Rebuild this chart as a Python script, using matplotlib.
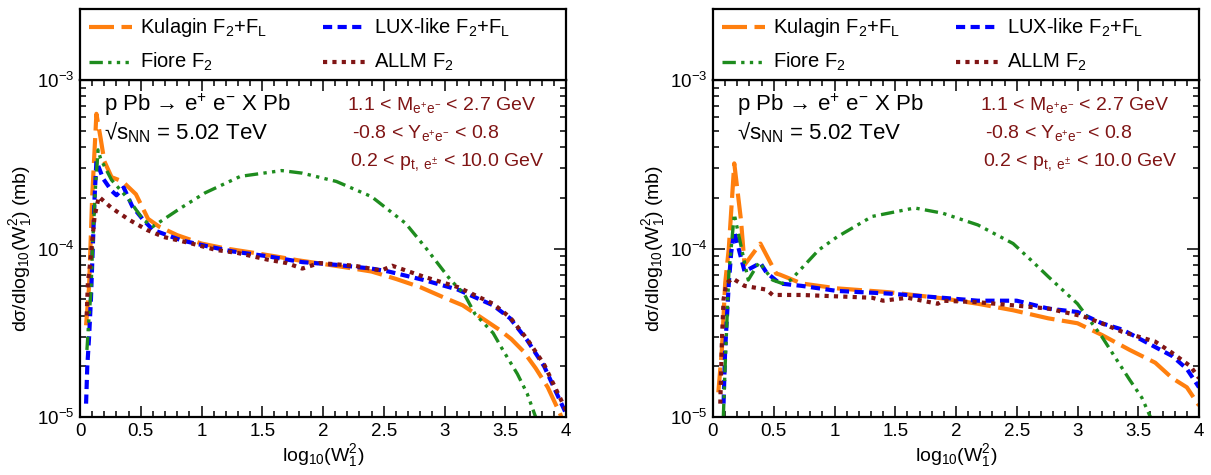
import matplotlib
matplotlib.use("Agg")
import matplotlib.pyplot as plt
from matplotlib.ticker import NullFormatter
import numpy as np

plt.rcParams['font.family'] = ['Liberation Sans', 'DejaVu Sans']
plt.rcParams['mathtext.fontset'] = 'custom'
plt.rcParams['mathtext.rm'] = 'Liberation Sans'
plt.rcParams['mathtext.it'] = 'Liberation Sans:italic'
plt.rcParams['mathtext.default'] = 'regular'

# ---------------- data: left panel ----------------
L_kul_x = [0.05, 0.075, 0.1, 0.135, 0.17, 0.2, 0.26, 0.35, 0.46, 0.56, 0.65, 0.8, 1.0, 1.2, 1.4,
           1.6, 1.8, 2.0, 2.2, 2.4, 2.6, 2.8, 3.0, 3.15, 3.3, 3.45, 3.55, 3.65, 3.75, 3.85, 3.95, 4.0]
L_kul_y = [3.5e-5, 6e-5, 2.0e-4, 6.3e-4, 4.5e-4, 3.3e-4, 2.65e-4, 2.5e-4, 2.1e-4, 1.5e-4, 1.35e-4,
           1.2e-4, 1.07e-4, 1.0e-4, 9.5e-5, 9.0e-5, 8.5e-5, 8.1e-5, 7.7e-5, 7.3e-5, 6.6e-5, 5.9e-5,
           5.1e-5, 4.6e-5, 3.9e-5, 3.3e-5, 2.9e-5, 2.45e-5, 1.95e-5, 1.5e-5, 1.05e-5, 0.85e-5]

L_lux_x = [0.05, 0.06, 0.075, 0.09, 0.105, 0.12, 0.135, 0.19, 0.26, 0.3, 0.36, 0.43, 0.52, 0.6,
           0.83, 1.05, 1.26, 1.54, 1.83, 2.11, 2.4, 2.54, 2.83, 3.11, 3.4, 3.54, 3.68, 3.82, 3.94, 4.0]
L_lux_y = [1.2e-5, 2e-5, 3e-5, 5e-5, 1.0e-4, 2.0e-4, 3.3e-4, 2.6e-4, 2.2e-4, 2.07e-4, 2.3e-4,
           1.78e-4, 1.48e-4, 1.29e-4, 1.12e-4, 1.03e-4, 9.6e-5, 9.0e-5, 8.3e-5, 8.0e-5, 7.6e-5,
           7.3e-5, 6.5e-5, 5.7e-5, 4.6e-5, 3.85e-5, 2.86e-5, 2.0e-5, 1.3e-5, 1.05e-5]

L_fio_x = [0.057, 0.075, 0.09, 0.105, 0.13, 0.149, 0.17, 0.26, 0.405, 0.52, 0.6, 0.83, 1.03, 1.32,
           1.66, 1.83, 2.11, 2.4, 2.68, 2.85, 3.05, 3.16, 3.25, 3.4, 3.48, 3.6, 3.68, 3.75, 3.8]
L_fio_y = [2.5e-5, 4e-5, 5.5e-5, 1.1e-4, 2.5e-4, 3.85e-4, 3.4e-4, 2.55e-4, 1.94e-4, 1.48e-4, 1.35e-4,
           1.74e-4, 2.14e-4, 2.68e-4, 2.9e-4, 2.8e-4, 2.5e-4, 2.03e-4, 1.41e-4, 1.0e-4, 6.5e-5,
           5.4e-5, 4.1e-5, 3.15e-5, 2.5e-5, 1.8e-5, 1.38e-5, 1.0e-5, 0.8e-5]

L_allm_x = [0.055, 0.065, 0.08, 0.095, 0.12, 0.155, 0.26, 0.405, 0.55, 0.69, 0.92, 1.12, 1.3, 1.54,
            1.7, 1.83, 1.97, 2.26, 2.48, 2.57, 2.83, 3.11, 3.4, 3.54, 3.68, 3.82, 3.94, 4.0]
L_allm_y = [4e-5, 6.3e-5, 7.8e-5, 1.0e-4, 1.55e-4, 2.03e-4, 1.74e-4, 1.48e-4, 1.29e-4, 1.17e-4,
            1.07e-4, 9.8e-5, 9.4e-5, 8.6e-5, 8.2e-5, 7.6e-5, 8.2e-5, 7.9e-5, 7.4e-5, 7.9e-5,
            6.8e-5, 5.9e-5, 4.7e-5, 3.9e-5, 2.9e-5, 2.05e-5, 1.35e-5, 1.1e-5]

# ---------------- data: right panel ----------------
R_kul_x = [0.044, 0.073, 0.10, 0.13, 0.175, 0.23, 0.26, 0.39, 0.52, 0.55, 0.73, 1.02, 1.45, 1.89,
           2.18, 2.47, 2.76, 3.0, 3.2, 3.43, 3.64, 3.78, 3.9, 4.0]
R_kul_y = [1.4e-5, 2.5e-5, 6.2e-5, 1.0e-4, 3.2e-4, 1.48e-4, 8e-5, 1.07e-4, 7.1e-5, 7.0e-5, 6.2e-5,
           5.8e-5, 5.5e-5, 5.06e-5, 4.7e-5, 4.3e-5, 3.85e-5, 3.6e-5, 3.07e-5, 2.5e-5, 2.1e-5,
           1.7e-5, 1.5e-5, 1.17e-5]

R_lux_x = [0.087, 0.1, 0.13, 0.15, 0.175, 0.26, 0.39, 0.44, 0.55, 0.73, 1.02, 1.45, 1.89, 2.18, 2.5,
           2.76, 3.0, 3.2, 3.37, 3.64, 3.78, 3.9, 4.0]
R_lux_y = [1.2e-5, 2.5e-5, 6.2e-5, 9.5e-5, 1.26e-4, 7.3e-5, 8.2e-5, 7.2e-5, 6.2e-5, 6.0e-5, 5.6e-5,
           5.4e-5, 5.1e-5, 4.9e-5, 4.9e-5, 4.4e-5, 4.2e-5, 3.6e-5, 3.3e-5, 2.6e-5, 2.3e-5, 1.93e-5,
           1.5e-5]

R_fio_x = [0.085, 0.1, 0.13, 0.175, 0.29, 0.38, 0.49, 0.57, 0.64, 0.87, 1.02, 1.31, 1.66, 1.89, 2.18,
           2.47, 2.62, 2.76, 3.0, 3.2, 3.32, 3.43, 3.53, 3.6, 3.65]
R_fio_y = [1.0e-5, 2e-5, 7e-5, 1.6e-4, 6.5e-5, 8.3e-5, 6.5e-5, 6.2e-5, 6.5e-5, 9.8e-5, 1.17e-4,
           1.55e-4, 1.74e-4, 1.62e-4, 1.38e-4, 1.07e-4, 8.5e-5, 6.8e-5, 4.7e-5, 3.0e-5, 2.2e-5,
           1.66e-5, 1.3e-5, 1.0e-5, 0.85e-5]

R_allm_x = [0.06, 0.073, 0.087, 0.11, 0.16, 0.26, 0.44, 0.49, 0.73, 1.02, 1.31, 1.4, 1.6, 1.85, 1.89,
            2.18, 2.47, 2.76, 3.05, 3.2, 3.37, 3.64, 3.78, 3.93, 4.0]
R_allm_y = [1.2e-5, 2.8e-5, 5e-5, 6.2e-5, 6.65e-5, 6.0e-5, 5.7e-5, 5.3e-5, 5.3e-5, 5.2e-5, 5.1e-5,
            4.9e-5, 5.1e-5, 4.7e-5, 4.9e-5, 4.8e-5, 4.6e-5, 4.4e-5, 3.95e-5, 3.6e-5, 3.2e-5, 2.8e-5,
            2.4e-5, 2.0e-5, 1.7e-5]

legend_labels = [r'Kulagin F$_{2}$+F$_{L}$', r'LUX-like F$_{2}$+F$_{L}$', r'Fiore F$_{2}$', r'ALLM F$_{2}$']
x_ticks = [0, 0.5, 1, 1.5, 2, 2.5, 3, 3.5, 4]
x_tick_labels = ['0', '0.5', '1', '1.5', '2', '2.5', '3', '3.5', '4']
y_ticks = [1e-5, 1e-4, 1e-3]
y_tick_labels = [r'$10^{-5}$', r'$10^{-4}$', r'$10^{-3}$']

# ---------------- styles ----------------
C_KUL = '#ff7f0e'
C_LUX = '#0000ff'
C_FIO = '#1e8c1e'
C_ALLM = '#801515'
styles = [
    dict(color=C_KUL, lw=3.0, ls=(0, (6, 1.8))),
    dict(color=C_LUX, lw=3.0, ls=(0, (2.2, 1.3))),
    dict(color=C_FIO, lw=2.4, ls=(0, (4, 1.6, 1, 1.6, 1, 1.6, 1, 1.6))),
    dict(color=C_ALLM, lw=3.0, ls=(0, (1, 1.25))),
]

W, H = 1211, 475
fig = plt.figure(figsize=(W / 100, H / 100), dpi=100)

y_minor = [m * 10.0 ** e for e in (-5, -4) for m in range(2, 10)]


def make_panel(x0, data):
    ax = fig.add_axes([x0 / W, 1 - 417 / H, 486 / W, 337 / H])
    ax.set_yscale('log')
    for (xs, ys), st in zip(data, styles):
        ax.plot(xs, ys, color=st['color'], lw=st['lw'], ls=st['ls'], solid_capstyle='butt',
                dash_capstyle='butt')
    ax.set_xlim(0, 4)
    ax.set_ylim(1e-5, 1e-3)
    ax.set_xticks(x_ticks)
    ax.set_xticklabels(x_tick_labels)
    ax.set_xticks(np.arange(0, 4.001, 0.1), minor=True)
    ax.set_yticks(y_ticks)
    ax.set_yticklabels(y_tick_labels)
    ax.set_yticks(y_minor, minor=True)
    ax.yaxis.set_minor_formatter(NullFormatter())
    ax.tick_params(which='both', direction='in', top=True, right=True, left=True, bottom=True,
                   labelsize=13.5, pad=4)
    ax.tick_params(which='major', axis='x', length=8, width=1.1)
    ax.tick_params(which='minor', axis='x', length=4, width=1.1)
    ax.tick_params(which='major', axis='y', length=8.5, width=1.1)
    ax.tick_params(which='minor', axis='y', length=4.5, width=1.1)
    for s in ax.spines.values():
        s.set_linewidth(1.6)

    ax.set_xlabel(r'log$_{10}$(W$_{1}^{2}$)', fontsize=14, labelpad=2)
    ax.set_ylabel(r'dσ/dlog$_{10}$(W$_{1}^{2}$) (mb)', fontsize=14, labelpad=2)

    ax.text(0.049, 0.926, r'p Pb → e$^{+}$ e$^{-}$ X Pb', transform=ax.transAxes,
            fontsize=16, va='center', ha='left', color='black')
    ax.text(0.049, 0.843, r'√s$_{NN}$ = 5.02 TeV', transform=ax.transAxes,
            fontsize=16, va='center', ha='left', color='black')
    ax.text(0.55, 0.926, r'1.1 < M$_{e^{+}e^{-}}$ < 2.7 GeV', transform=ax.transAxes,
            fontsize=14, va='center', ha='left', color=C_ALLM)
    ax.text(0.56, 0.843, r'-0.8 < Y$_{e^{+}e^{-}}$ < 0.8', transform=ax.transAxes,
            fontsize=14, va='center', ha='left', color=C_ALLM)
    ax.text(0.555, 0.757, r'0.2 < p$_{t,\ e^{\pm}}$ < 10.0 GeV', transform=ax.transAxes,
            fontsize=14, va='center', ha='left', color=C_ALLM)

    # legend box
    lg = fig.add_axes([x0 / W, 1 - 80 / H, 486 / W, 71 / H])
    lg.set_xlim(0, 1)
    lg.set_ylim(0, 1)
    lg.set_xticks([])
    lg.set_yticks([])
    for s in lg.spines.values():
        s.set_linewidth(1.6)
    pos = [(0.0185, 0.74), (0.50, 0.74), (0.0185, 0.25), (0.50, 0.25)]
    for (px, py), st, lab in zip(pos, styles, legend_labels):
        lg.plot([px, px + 0.088], [py, py], color=st['color'], lw=st['lw'], ls=st['ls'],
                dash_capstyle='butt')
        lg.text(px + 0.105, py, lab, fontsize=14.5, va='center', ha='left')
    return ax


make_panel(80, [(L_kul_x, L_kul_y), (L_lux_x, L_lux_y), (L_fio_x, L_fio_y), (L_allm_x, L_allm_y)])
make_panel(713, [(R_kul_x, R_kul_y), (R_lux_x, R_lux_y), (R_fio_x, R_fio_y), (R_allm_x, R_allm_y)])

fig.savefig('out.png', dpi=100)
